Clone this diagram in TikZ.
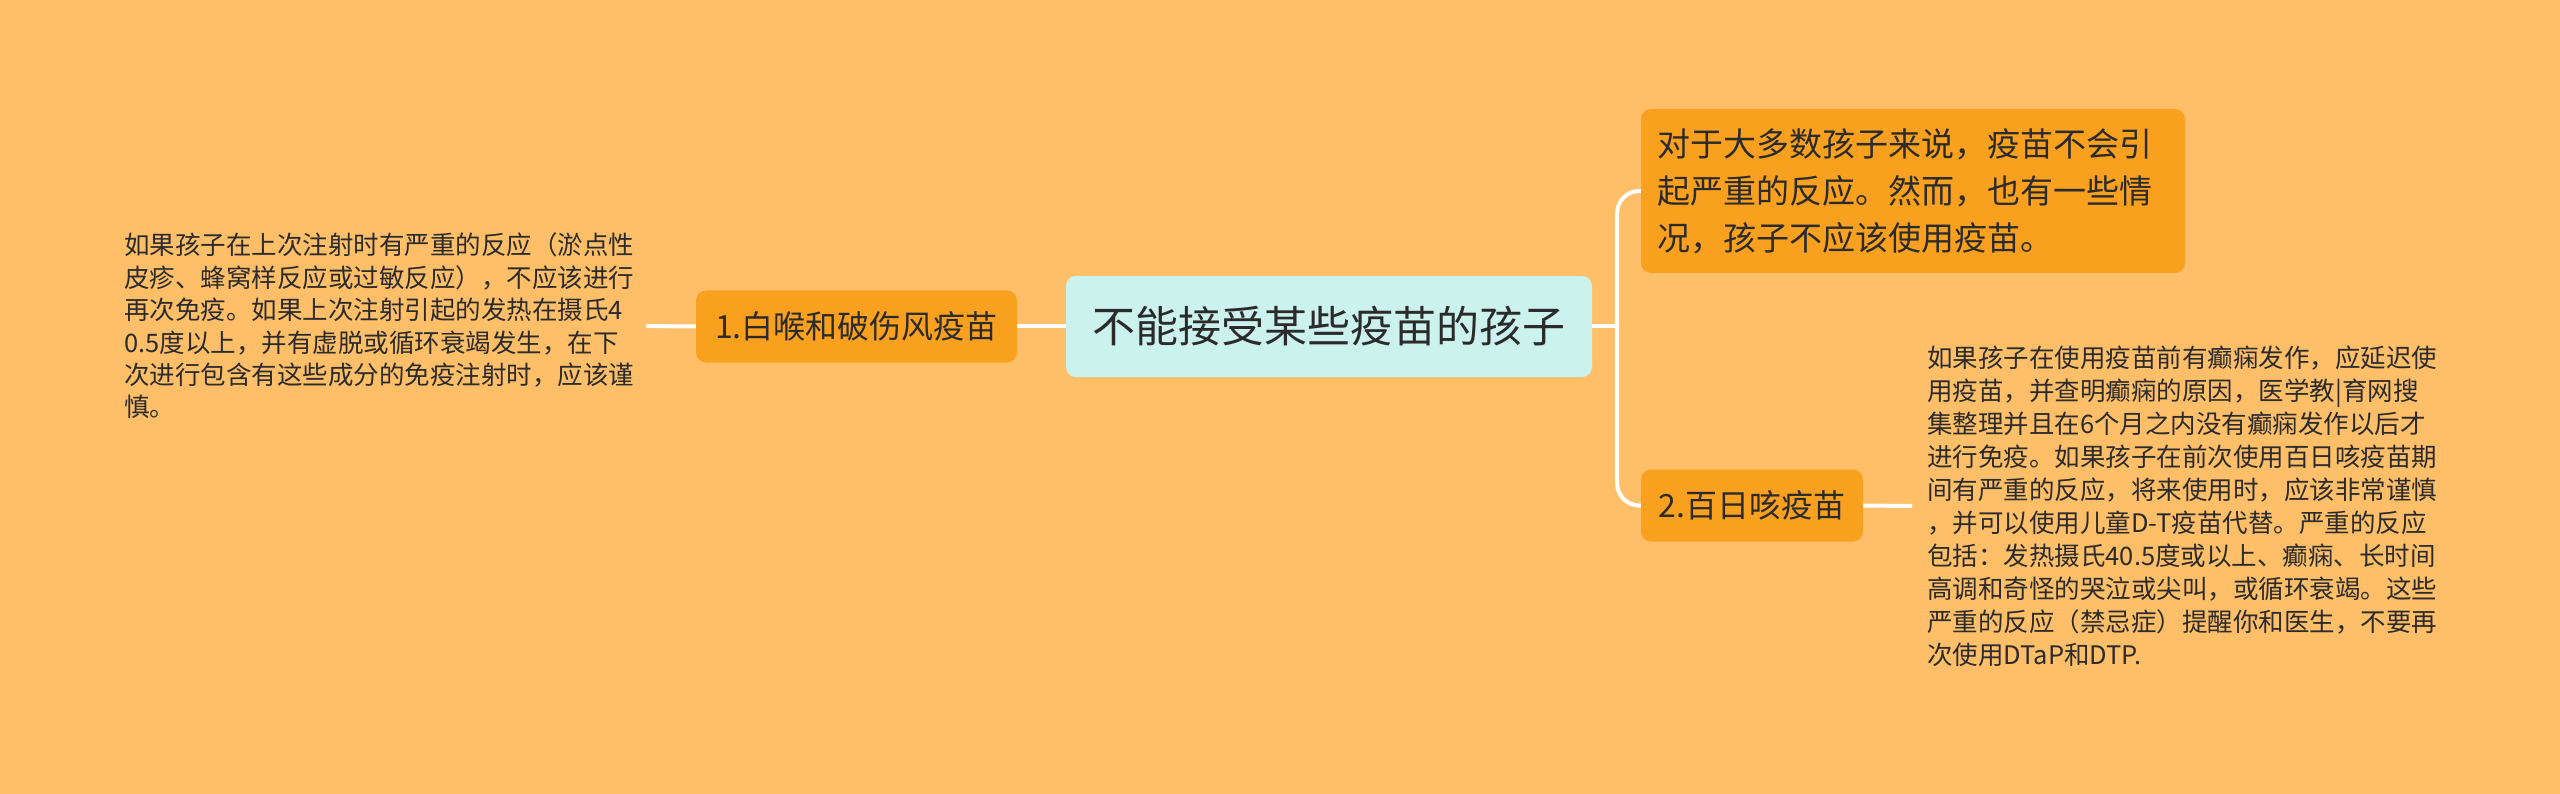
\documentclass[tikz,border=0pt]{standalone}
\usepackage{fontspec}
\setmainfont{Noto Sans CJK SC}
\usetikzlibrary{calc}
\definecolor{bg}{HTML}{FFBF69}
\definecolor{orangebox}{HTML}{F9A11E}
\definecolor{rootbox}{HTML}{CCF2EE}
\definecolor{ink}{HTML}{2B2B2B}
\tikzset{
  link/.style={draw=white, line width=4pt},
  rootnode/.style={fill=rootbox, rounded corners=10pt, text=ink, minimum width=526pt, minimum height=101pt, inner sep=0pt, font=\fontsize{43}{50}\selectfont},
  branch/.style={fill=orangebox, rounded corners=10pt, text=ink, minimum height=72pt, inner xsep=16pt, inner ysep=0pt, font=\fontsize{32}{40}\selectfont},
  bigleaf/.style={fill=orangebox, rounded corners=10pt, text=ink, text width=512pt, inner xsep=16pt, minimum height=164pt, align=left, font=\fontsize{33}{47}\selectfont},
  leaftext/.style={text=ink, align=left, inner xsep=12pt, inner ysep=0pt, anchor=west}
}
\begin{document}
\begin{tikzpicture}[x=1pt,y=-1pt]
\fill[bg] (0,0) rectangle (2560,794);
\useasboundingbox (0,0) rectangle (2560,794);

\node[rootnode] (root) at (1329,326.5) {不能接受某些疫苗的孩子};
\node[branch, minimum width=321pt] (b1) at (856.5,326.5) {1.白喉和破伤风疫苗};
\node[bigleaf] (t1) at (1913,191) {对于大多数孩子来说，疫苗不会引\\起严重的反应。然而，也有一些情\\况，孩子不应该使用疫苗。};
\node[branch, minimum width=222pt] (b2) at (1752,505.5) {2.百日咳疫苗};

\node[leaftext, font=\fontsize{25.5}{32.4}\selectfont] (lt) at (112,326) {如果孩子在上次注射时有严重的反应（淤点性\\皮疹、蜂窝样反应或过敏反应），不应该进行\\再次免疫。如果上次注射引起的发热在摄氏4\\0.5度以上，并有虚脱或循环衰竭发生，在下\\次进行包含有这些成分的免疫注射时，应该谨\\慎。};

\node[leaftext, inner xsep=15pt, font=\fontsize{25.5}{33}\selectfont] (rt) at (1912,506) {如果孩子在使用疫苗前有癫痫发作，应延迟使\\用疫苗，并查明癫痫的原因，医学教|育网搜\\集整理并且在6个月之内没有癫痫发作以后才\\进行免疫。如果孩子在前次使用百日咳疫苗期\\间有严重的反应，将来使用时，应该非常谨慎\\，并可以使用儿童D-T疫苗代替。严重的反应\\包括：发热摄氏40.5度或以上、癫痫、长时间\\高调和奇怪的哭泣或尖叫，或循环衰竭。这些\\严重的反应（禁忌症）提醒你和医生，不要再\\次使用DTaP和DTP.};

\coordinate (trunk) at ($(root.east)+(25,0)$);
\draw[link] (root.west) -- (b1.east);
\draw[link] (b1.west) -- (lt.east);
\draw[link] (root.east) -- (trunk);
\draw[link, rounded corners=22pt] (trunk) |- (t1.west);
\draw[link, rounded corners=22pt] (trunk) |- (b2.west);
\draw[link] (b2.east) -- (rt.west);
\end{tikzpicture}
\end{document}
